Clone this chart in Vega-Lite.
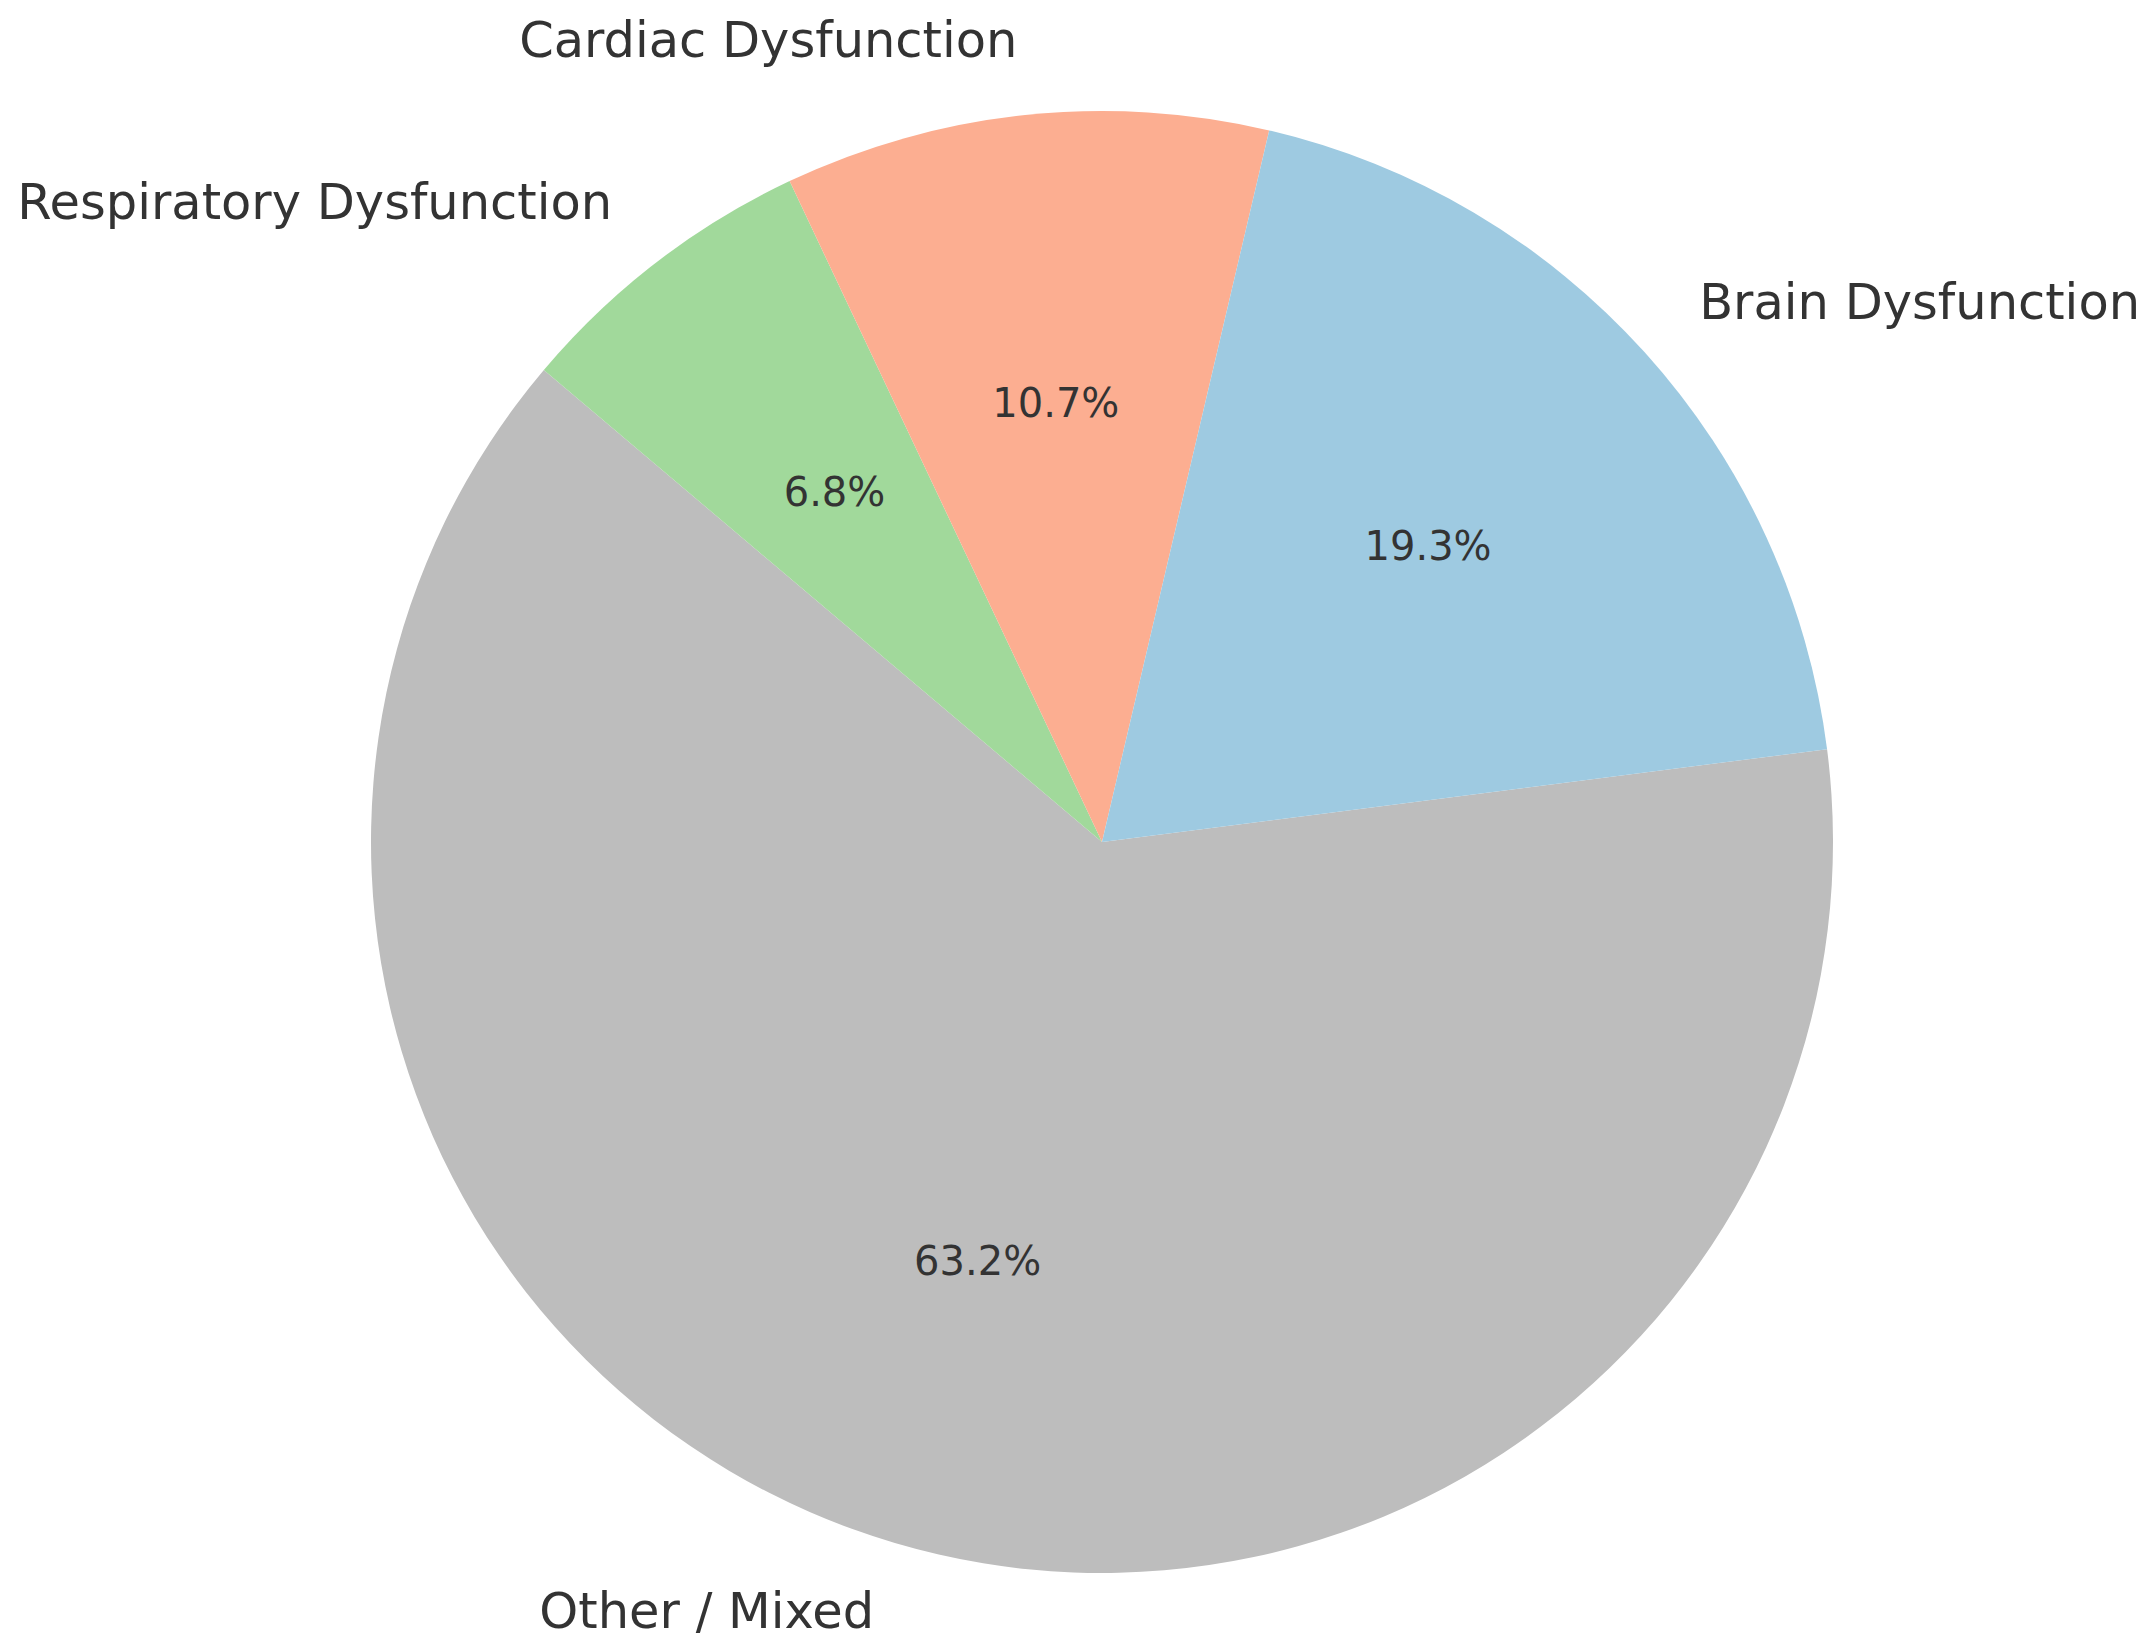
{
  "$schema": "https://vega.github.io/schema/vega-lite/v6.json",
  "autosize": "none",
  "width": 2090,
  "height": 1616,
  "padding": {"left": 57, "top": 34, "right": 0, "bottom": 0},
  "background": "white",
  "config": {"view": {"stroke": null}},
  "data": {
    "values": [
      {"category": "Other / Mixed", "share": 0.632, "ord": 1},
      {"category": "Respiratory Dysfunction", "share": 0.068, "ord": 2},
      {"category": "Cardiac Dysfunction", "share": 0.107, "ord": 3},
      {"category": "Brain Dysfunction", "share": 0.193, "ord": 4}
    ]
  },
  "encoding": {
    "theta": {"field": "share", "type": "quantitative", "stack": true, "scale": {"domain": [0, 1], "range": [1.4434, 7.7266], "zero": true}},
    "order": {"field": "ord", "type": "quantitative"},
    "color": {
      "field": "category", "type": "nominal", "legend": null,
      "scale": {
        "domain": ["Other / Mixed", "Respiratory Dysfunction", "Cardiac Dysfunction", "Brain Dysfunction"],
        "range": ["#bdbdbd", "#a1d99b", "#fcae91", "#9ecae1"]
      }
    }
  },
  "layer": [
    {"mark": {"type": "arc", "outerRadius": 731, "stroke": null}},
    {
      "mark": {"type": "text", "radius": 439, "font": "DejaVu Sans", "fontSize": 40, "align": "center", "baseline": "middle"},
      "encoding": {
        "text": {"field": "share", "type": "quantitative", "format": ".1%"},
        "color": {"value": "#333333"}
      }
    },
    {
      "mark": {"type": "text", "radius": 804, "font": "DejaVu Sans", "fontSize": 49.5, "align": "left", "baseline": "middle"},
      "encoding": {
        "text": {"condition": {"test": "datum.category === 'Brain Dysfunction'", "field": "category"}, "value": ""},
        "color": {"value": "#333333"}
      }
    },
    {
      "mark": {"type": "text", "radius": 804, "font": "DejaVu Sans", "fontSize": 49.5, "align": "right", "baseline": "middle"},
      "encoding": {
        "text": {"condition": {"test": "datum.category !== 'Brain Dysfunction'", "field": "category"}, "value": ""},
        "color": {"value": "#333333"}
      }
    }
  ]
}
